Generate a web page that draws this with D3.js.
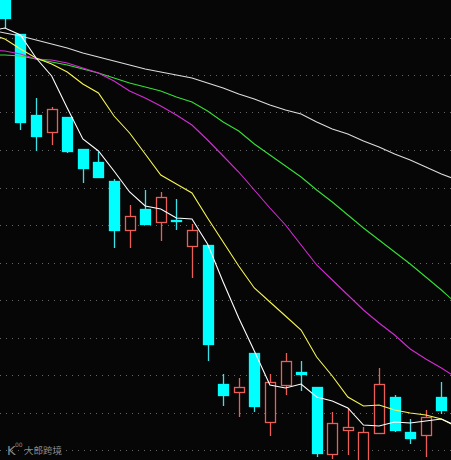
<!DOCTYPE html>
<html><head><meta charset="utf-8">
<style>html,body{margin:0;padding:0;background:#060606;overflow:hidden}svg{display:block}</style>
<script src="https://cdn.jsdelivr.net/npm/d3@7"></script></head><body>
<script>
const open_ =[46.5,42.6,34.5,32.8,34.3,31.1,29.8,27.9,23.0,25.1,23.8,24.0,21.4,21.5,7.6,6.8,10.7,3.8,7.5,8.8,7.3,0.6,3.0,-0.5,2.7,6.3,2.8,2.5,6.3];
const close_=[44.2,33.8,32.4,35.1,30.9,29.2,28.3,23.0,24.4,23.6,26.3,23.9,23.0,11.6,6.5,7.3,5.4,7.8,9.9,8.6,0.7,3.7,3.3,2.8,7.6,3.0,2.2,4.3,5.0];
const high_ =[46.5,42.6,36.2,35.3,34.3,31.1,30.8,28.1,25.5,27.0,26.8,26.1,23.6,21.5,8.6,8.2,10.7,8.6,10.7,9.9,7.3,4.8,5.2,3.3,9.2,6.5,4.1,5.0,7.8];
const low_  =[43.2,33.0,30.9,31.5,30.7,27.7,28.3,21.2,21.2,23.6,21.9,23.0,18.2,9.9,5.4,4.3,4.8,2.4,6.5,6.9,0.3,0.1,0.5,-0.5,2.7,2.8,1.6,0.3,4.6];
// moving averages: first entry sits one session left of the frame, last one session right of it
const ma5  =[42.9,43.2,42.5,40.2,38.4,35.2,32.1,30.9,28.9,26.8,25.4,25.1,24.2,24.1,21.6,17.8,14.2,10.9,7.5,7.2,7.6,6.3,5.9,5.2,3.5,3.4,3.8,3.7,3.9,4.1,3.4];
const ma10 =[42.6,42.1,41.1,40.2,39.6,38.8,37.6,36.7,34.4,32.7,30.6,28.5,27.6,26.7,24.2,21.8,19.4,17.2,15.8,14.4,13.0,10.3,8.4,6.3,5.4,5.5,5.0,4.7,4.5,4.1,3.3];
const ma20 =[41.0,40.9,40.6,40.1,40.0,39.7,39.2,38.7,37.9,36.9,36.2,35.4,34.5,33.5,32.0,30.4,28.8,27.0,25.2,23.5,21.5,19.5,18.0,16.5,15.0,13.7,12.5,11.1,10.1,9.2,8.2];
const ma30 =[40.5,40.5,40.4,40.1,39.8,39.5,39.1,38.7,38.2,37.7,37.3,36.9,36.3,35.8,34.9,33.8,32.9,31.6,30.5,29.4,28.3,27.0,25.8,24.5,23.2,22.0,20.8,19.6,18.3,17.0,15.6];
const ma60 =[43.0,42.7,42.4,42.0,41.6,41.2,40.7,40.3,39.9,39.5,39.1,38.8,38.5,38.2,37.7,37.2,36.6,36.1,35.5,35.0,34.6,33.8,33.1,32.6,31.9,31.3,30.6,30.0,29.3,28.6,28.0];
const gridLevels=[42.25,38.5,34.75,31,27.25,23.5,19.75,16,12.25,8.5,4.75,1];
const watermark="大郎跨境";

const W=451,H=460;
const CYAN="#00ffff",WICK="#3ce0e6",RED="#ea5f58";
const x=d3.scaleLinear().domain([0,28]).range([4.9,441.4]);
const y=d3.scaleLinear().domain([0,46]).range([460,0]);
const px=v=>Math.round(v)+0.5;

const svg=d3.select("body").append("svg").attr("width",W).attr("height",H).style("background","#060606");

svg.append("g").selectAll("line").data(gridLevels).join("line")
  .attr("x1",0).attr("x2",W).attr("y1",d=>px(y(d))).attr("y2",d=>px(y(d)))
  .attr("stroke","#666").attr("stroke-dasharray","1 5");

const candles=open_.map((o,i)=>({i,o,c:close_[i],h:high_[i],l:low_[i],up:close_[i]>o}));
const g=svg.append("g");
g.selectAll("line.wick").data(candles).join("line").attr("class","wick")
  .attr("x1",d=>px(x(d.i))).attr("x2",d=>px(x(d.i)))
  .attr("y1",d=>y(d.h)).attr("y2",d=>y(d.l))
  .attr("stroke",d=>d.up?RED:WICK).attr("stroke-width",1.3);
g.selectAll("rect").data(candles).join("rect")
  .attr("x",d=>px(x(d.i))-5)
  .attr("width",10)
  .attr("y",d=>Math.round(y(Math.max(d.o,d.c)))+0.5)
  .attr("height",d=>Math.max(1,Math.round(Math.abs(y(d.o)-y(d.c)))))
  .attr("fill",d=>d.up?"#060606":CYAN)
  .attr("stroke",d=>d.up?RED:CYAN)
  .attr("stroke-width",1.3);

const line=d3.line().x((d,i)=>x(i-1)).y(d=>y(d));
[[ma60,"#dcdcdc"],[ma30,"#35e035"],[ma20,"#d42cd4"],[ma10,"#f6f650"],[ma5,"#ffffff"]].forEach(([s,c])=>{
  svg.append("path").datum(s).attr("d",line).attr("fill","none").attr("stroke",c).attr("stroke-width",1.1);
});

const wm=svg.append("g").attr("fill","#8a8a8a");
wm.append("text").attr("x",7).attr("y",455).attr("font-family","DejaVu Sans").attr("font-size",13).text("K");
wm.append("text").attr("x",15).attr("y",447).attr("font-family","DejaVu Sans").attr("font-size",6).text("00");
wm.append("text").attr("x",24).attr("y",454).attr("font-family","'Noto Sans CJK SC'").attr("font-size",9.5).text(watermark);
</script></body></html>
